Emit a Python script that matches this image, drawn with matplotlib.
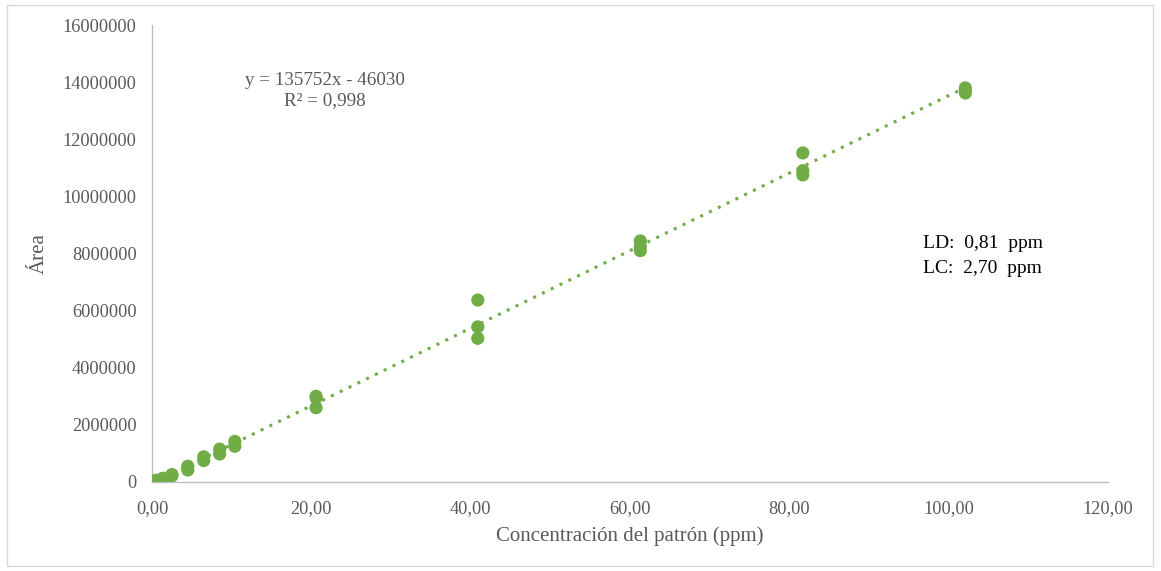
import matplotlib
matplotlib.use("Agg")
import matplotlib.pyplot as plt
from matplotlib.patches import FancyBboxPatch
from matplotlib.ticker import FuncFormatter
import numpy as np

plt.rcParams['font.family'] = ['Liberation Serif', 'DejaVu Serif']

# calibration standards (ppm) and measured areas
conc = [0.4, 0.75, 1.4, 1.4, 2.5, 2.5, 4.5, 4.5, 6.5, 6.5,
        8.5, 8.5, 10.4, 10.4, 20.6, 20.6, 20.6, 40.9, 40.9, 40.9,
        61.3, 61.3, 61.3, 81.7, 81.7, 81.7, 102.1, 102.1, 102.1]
area = [50000, 65000, 110000, 130000, 215000, 260000, 420000, 550000, 750000, 880000,
        980000, 1150000, 1250000, 1420000, 2600000, 2950000, 3000000, 5030000, 5430000, 6370000,
        8100000, 8250000, 8440000, 10750000, 10900000, 11520000, 13620000, 13720000, 13800000]

slope = 135752
intercept = -46030
r2 = 0.998
ld = "0,81"
lc = "2,70"

green = '#70AD47'
grey = '#595959'

fig = plt.figure(figsize=(11.61, 5.71), dpi=100)
fig.patches.append(FancyBboxPatch((0.006, 0.009), 0.987, 0.982, boxstyle="square,pad=0",
                                  transform=fig.transFigure, fill=False,
                                  edgecolor='#D9D9D9', linewidth=1.0))
ax = fig.add_axes([0.1309, 0.1559, 0.8234, 0.8003])

xs = np.array([min(conc), max(conc)])
ax.plot(xs, slope * xs + intercept, linestyle=(0, (1, 2.2)), color=green, linewidth=2.2, zorder=2)
ax.scatter(conc, area, s=90, color=green, edgecolors='none', zorder=3)

ax.set_xlim(0, 120)
ax.set_ylim(0, 16000000)
ax.set_xticks(np.arange(0, 121, 20))
ax.set_yticks(np.arange(0, 16000001, 2000000))
ax.xaxis.set_major_formatter(FuncFormatter(lambda v, p: f"{v:.2f}".replace('.', ',')))
ax.yaxis.set_major_formatter(FuncFormatter(lambda v, p: f"{int(v)}"))
ax.tick_params(length=0, labelsize=13.2, labelcolor=grey)
ax.tick_params(axis='x', pad=13)
ax.tick_params(axis='y', pad=11)

for s in ['top', 'right']:
    ax.spines[s].set_visible(False)
for s in ['left', 'bottom']:
    ax.spines[s].set_color('#BFBFBF')
    ax.spines[s].set_linewidth(1.0)

ax.set_xlabel("Concentración del patrón (ppm)", fontsize=15, color=grey, labelpad=7)
ax.set_ylabel("Área", fontsize=15, color=grey, labelpad=10)

ax.text(21.7, 13700000, f"y = {slope}x - {abs(intercept)}\nR² = {str(r2).replace('.', ',')}",
        ha='center', va='center', fontsize=13.7, color=grey, linespacing=1.2)
ax.text(96.8, 8650000, f"LD:  {ld}  ppm\nLC:  {lc}  ppm",
        ha='left', va='top', fontsize=14, color='black', linespacing=1.6)

fig.savefig("out.png", dpi=100)
